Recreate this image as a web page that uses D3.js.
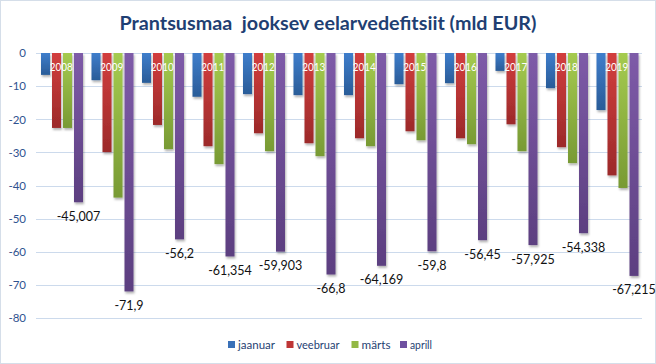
<!DOCTYPE html>
<html><head><meta charset="utf-8">
<script src="https://cdn.jsdelivr.net/npm/d3@7"></script>
<style>body{margin:0;background:#fff}svg{display:block}</style>
</head><body>
<script>
const years = ["2008","2009","2010","2011","2012","2013","2014","2015","2016","2017","2018","2019"];
const seriesNames = ["jaanuar","veebruar","märts","aprill"];
const jaanuar  = [-6.6,-8.2,-9.0,-13.2,-12.4,-12.7,-12.7,-9.4,-9.1,-5.4,-10.6,-17.2];
const veebruar = [-22.6,-29.9,-21.7,-28.1,-24.2,-27.2,-25.7,-23.6,-25.7,-21.5,-28.4,-36.9];
const marts    = [-22.6,-43.6,-29.0,-33.5,-29.6,-31.1,-28.1,-26.3,-27.5,-29.6,-33.2,-40.7];
const aprill   = [-45.007,-71.9,-56.2,-61.354,-59.903,-66.8,-64.169,-59.8,-56.45,-57.925,-54.338,-67.215];
const aprillLabels = ["-45,007","-71,9","-56,2","-61,354","-59,903","-66,8","-64,169","-59,8","-56,45","-57,925","-54,338","-67,215"];
const yTicks = [0,-10,-20,-30,-40,-50,-60,-70,-80];
const colorsTop = ["#3E7DCB","#D23E3E","#A5CB4F","#7E5BA8"];
const colorsBot = ["#2A5C98","#9C2A2A","#789A34","#5C3F80"];
const legendColors = ["#3A71B8","#BE3535","#93B845","#6E50A0"];

const W=656,H=364;
const FONT="Lato, 'Open Sans', sans-serif";
const svg=d3.select("body").append("svg").attr("width",W).attr("height",H);
const defs=svg.append("defs");
seriesNames.forEach((s,i)=>{
  const g=defs.append("linearGradient").attr("id","g"+i).attr("x1",0).attr("y1",0).attr("x2",0).attr("y2",1);
  g.append("stop").attr("offset","0%").attr("stop-color",colorsTop[i]);
  g.append("stop").attr("offset","100%").attr("stop-color",colorsBot[i]);
});
const f=defs.append("filter").attr("id","sh").attr("x","-50%").attr("y","-10%").attr("width","200%").attr("height","130%");
f.append("feDropShadow").attr("dx",1).attr("dy",2).attr("stdDeviation",1).attr("flood-color","#000").attr("flood-opacity",0.3);

svg.append("rect").attr("x",0.5).attr("y",0.5).attr("width",W-1).attr("height",H-1).attr("fill","#fff").attr("stroke","#D5DEE9");

svg.append("text").attr("x",328).attr("y",30).attr("text-anchor","middle").style("white-space","pre")
  .attr("font-family",FONT).attr("font-weight","bold").attr("font-size",19)
  .attr("fill","#1F3F73").attr("textLength",417).attr("lengthAdjust","spacingAndGlyphs")
  .text("Prantsusmaa  jooksev eelarvedefitsiit (mld EUR)");

const x0=d3.scaleBand().domain(years).range([36,642]);
const x1=d3.scaleBand().domain(seriesNames).range([5,47]).paddingInner(2/11);
const y=d3.scaleLinear().domain([-80,0]).range([318.3,53]);

svg.append("g").selectAll("line").data(yTicks).join("line")
  .attr("x1",36).attr("x2",642).attr("y1",d=>Math.round(y(d))+0.5).attr("y2",d=>Math.round(y(d))+0.5)
  .attr("stroke","#CCDAEC").attr("stroke-width",1);

const yAxis=svg.append("g").attr("transform","translate(36,0)")
  .call(d3.axisLeft(y).tickValues(yTicks).tickSize(0).tickPadding(10).tickFormat(d=>d3.format("d")(d).replace("−","-")));
yAxis.select(".domain").remove();
yAxis.selectAll("text").attr("font-family",FONT).attr("font-size",11.5).attr("fill","#2F528F");

const data=[jaanuar,veebruar,marts,aprill];
const groups=svg.append("g").selectAll("g").data(years).join("g").attr("transform",d=>`translate(${x0(d)},0)`);
groups.selectAll("rect").data((d,i)=>seriesNames.map((s,k)=>({s,k,v:data[k][i]}))).join("rect")
  .attr("x",d=>x1(d.s)).attr("width",x1.bandwidth())
  .attr("y",y(0)).attr("height",d=>y(d.v)-y(0))
  .attr("fill",d=>`url(#g${d.k})`).attr("filter","url(#sh)");

groups.append("text").attr("x",x0.bandwidth()/2).attr("y",71).attr("text-anchor","middle")
  .attr("font-family",FONT).attr("font-size",12).attr("fill","#fff")
  .attr("textLength",23).attr("lengthAdjust","spacingAndGlyphs").text(d=>d);

groups.append("text").attr("x",x1("aprill")+x1.bandwidth()/2).attr("y",(d,i)=>y(aprill[i])+18.5)
  .attr("text-anchor","middle").attr("font-family",FONT).attr("font-size",12.5).attr("fill","#111")
  .text((d,i)=>aprillLabels[i]);

const legX=[228,286.5,351.5,400];
const legW=[37,43,29,22];
const leg=svg.append("g").selectAll("g").data(seriesNames).join("g").attr("transform",(d,i)=>`translate(${legX[i]},341)`);
leg.append("rect").attr("width",7).attr("height",7).attr("fill",(d,i)=>legendColors[i]);
leg.append("text").attr("x",10).attr("y",8).attr("font-family",FONT).attr("font-size",11.5).attr("fill","#1F3F73")
  .attr("textLength",(d,i)=>legW[i]).attr("lengthAdjust","spacingAndGlyphs").text(d=>d);
</script>
</body></html>
